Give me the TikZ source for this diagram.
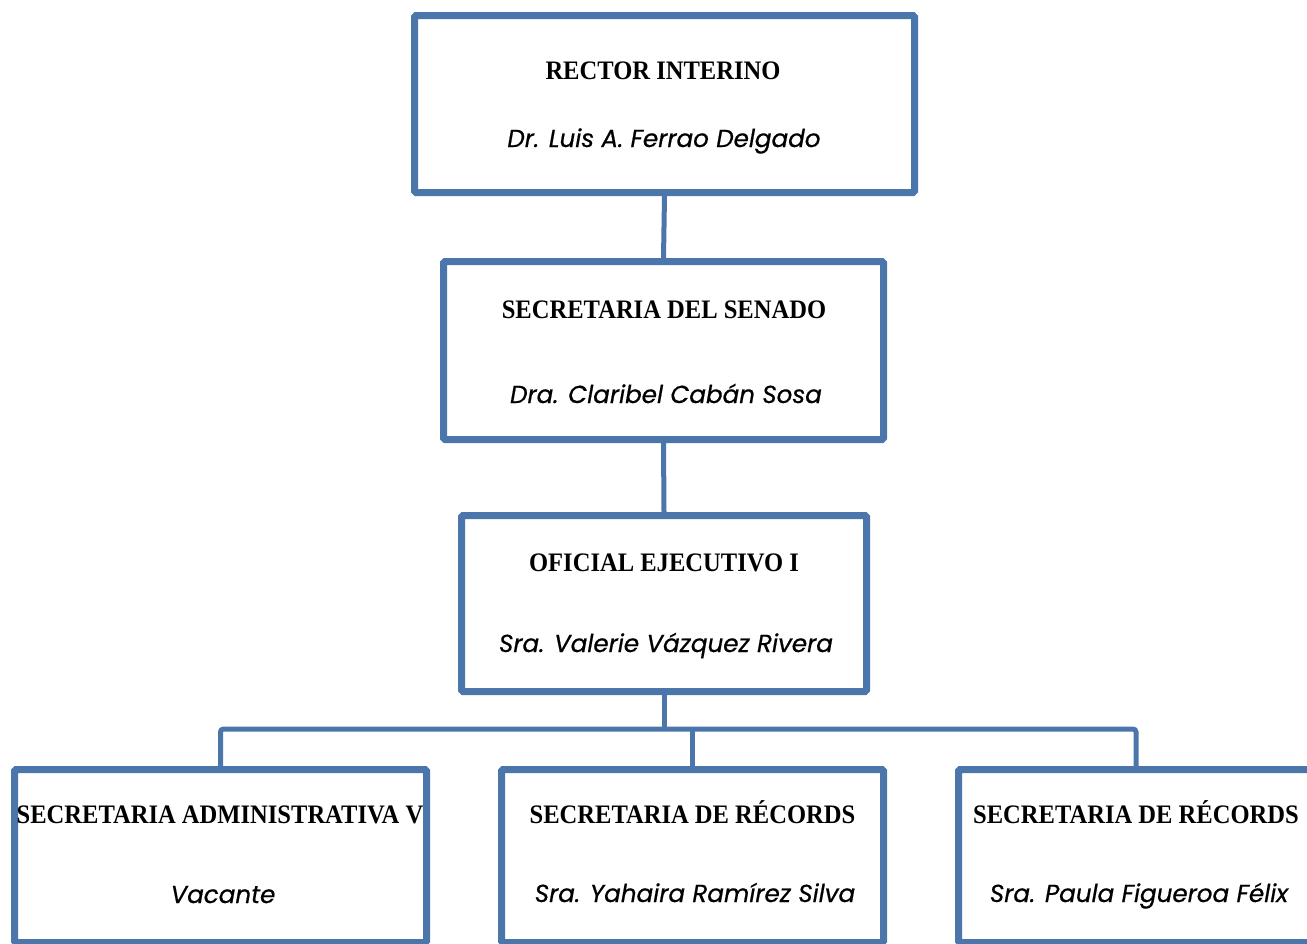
\documentclass[tikz,border=0pt]{standalone}
\usepackage{fontspec}
\setmainfont{Liberation Serif}
\newfontfamily\titlefont[FakeStretch=0.92]{Liberation Serif}
\newfontfamily\namefont[FakeBold=0.6]{Poppins}
\usetikzlibrary{shadows,backgrounds}
\definecolor{boxblue}{HTML}{4A76AB}
\tikzset{
  orgbox/.style={draw=boxblue, line width=7pt, fill=white, rounded corners=1.5pt,
    inner sep=0pt, drop shadow={shadow xshift=2pt, shadow yshift=-2.5pt, opacity=0.25, fill=black}},
  titletext/.style={anchor=base, font=\titlefont\fontsize{26.7}{30}\selectfont\bfseries, inner sep=0pt},
  nametext/.style={anchor=base, font=\namefont\fontsize{24.6}{28}\selectfont\itshape, inner sep=0pt},
  link/.style={draw=boxblue, line width=5pt}
}
\begin{document}
\begin{tikzpicture}[x=1pt,y=-1pt]
\useasboundingbox (0,0) rectangle (1307,943);
\node[orgbox, minimum width=500pt, minimum height=177pt] (b1) at (664.5,104) {};
\node[orgbox, minimum width=440pt, minimum height=178pt] (b2) at (663.5,350.5) {};
\node[orgbox, minimum width=405pt, minimum height=176pt] (b3) at (664,603.5) {};
\node[orgbox, minimum width=412pt, minimum height=173pt] (b4) at (220.5,856) {};
\node[orgbox, minimum width=382pt, minimum height=173pt] (b5) at (692.5,856) {};
\node[orgbox, minimum width=355pt, minimum height=173pt] (b6) at (1136,856) {};

\node[titletext] (t1) at (663,79) {RECTOR INTERINO};
\node[nametext] (n1) at (664,147) {Dr. Luis A. Ferrao Delgado};
\node[titletext] (t2) at (664,318) {SECRETARIA DEL SENADO};
\node[nametext] (n2) at (666,403) {Dra. Claribel Cabán Sosa};
\node[titletext] (t3) at (664,571) {OFICIAL EJECUTIVO I};
\node[nametext] (n3) at (666,652) {Sra. Valerie Vázquez Rivera};
\node[titletext] (t4) at (220,823) {SECRETARIA ADMINISTRATIVA V};
\node[nametext] (n4) at (223,903) {Vacante};
\node[titletext] (t5) at (692.5,823) {SECRETARIA DE RÉCORDS};
\node[nametext] (n5) at (695,902) {Sra. Yahaira Ramírez Silva};
\node[titletext] (t6) at (1136,823) {SECRETARIA DE RÉCORDS};
\node[nametext] (n6) at (1139,902) {Sra. Paula Figueroa Félix};

\coordinate (bus) at (664,729);
\begin{scope}[on background layer]
\draw[link] (b1.south) -- (b2.north);
\draw[link] (b2.south) -- (b3.north);
\draw[link] (b3.south) -- (bus);
\draw[link, rounded corners=3pt] (b4.north) |- (bus) -| (b6.north);
\draw[link] (b5.north) -- (b5.north |- bus);
\end{scope}
\end{tikzpicture}
\end{document}
